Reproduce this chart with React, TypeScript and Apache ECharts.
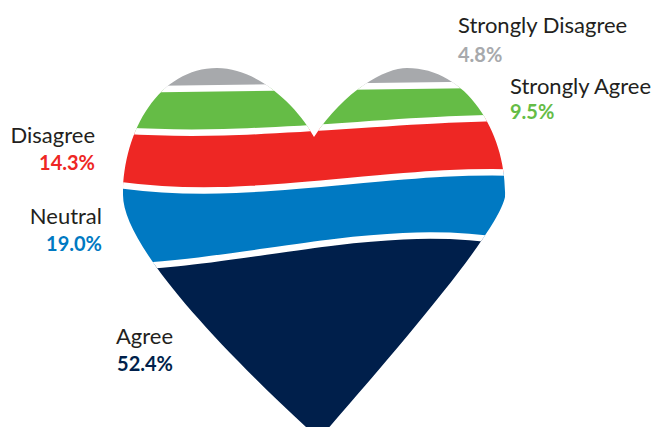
import React, { useEffect, useRef } from 'react';
import * as echarts from 'echarts';

// ---- data ----
const categories = ['Strongly Disagree', 'Strongly Agree', 'Disagree', 'Neutral', 'Agree'];
const values = [4.8, 9.5, 14.3, 19.0, 52.4];
const valueLabels = ['4.8%', '9.5%', '14.3%', '19.0%', '52.4%'];

// ---- styles / layout ----
const COLORS = ['#A7A9AC', '#65BC46', '#EE2724', '#0079C2', '#001F4B'];
const LABEL_LAYOUT = [
  { x: 458, nameY: 24.5, pctY: 53.5, align: 'left' },
  { x: 510, nameY: 85.5, pctY: 110.5, align: 'left' },
  { x: 95, nameY: 134.5, pctY: 161.5, align: 'right' },
  { x: 102, nameY: 215.5, pctY: 242.5, align: 'right' },
  { x: 173, nameY: 335.5, pctY: 362.5, align: 'right' },
];
// wave offsets (px) of each band boundary at four bezier control points
const WAVES = [
  [3, 1, -1, -3],
  [4, 20, -8, -6],
  [1, 32, -16, -5],
  [15, 18, -42, -4],
];
const HEART_PATH =
  'M314 137 C300 110 260 68 217 68 C160 68 123 130 123 195 C123 240 200 330 319 439 ' +
  'C400 346 498 232 505 197 C507 135 468 68 407 68 C385 68 345 90 314 137 Z';

export default function App() {
  const ref = useRef<HTMLDivElement>(null);
  useEffect(() => {
    document.body.style.margin = '0';
    if (!ref.current) return;
    const chart = echarts.init(ref.current, null, { renderer: 'svg' });
    let acc = 0;
    const data = values.map((v) => {
      const item = [acc, acc + v, v];
      acc += v;
      return item;
    });
    const n = values.length;
    const option: any = {
      animation: false,
      grid: {
        left: 123,
        top: 68.5,
        width: 382,
        height: 386,
        containLabel: false,
        outerBoundsMode: 'none',
      },
      xAxis: { type: 'value', min: 0, max: 100, show: false },
      yAxis: { type: 'value', min: 0, max: 100, inverse: true, show: false },
      series: [
        {
          type: 'custom',
          clip: false,
          data,
          renderItem: (params: any, api: any) => {
            const i = params.dataIndex;
            const cs = params.coordSys;
            const yTop = api.coord([0, api.value(0)])[1];
            const yBot = api.coord([0, api.value(1)])[1];
            const xs = [cs.x - 33, cs.x + 117, cs.x + 267, cs.x + 417];
            const curve = (y: number, k: number) =>
              xs.map((x, j) => [x, k < 0 ? y : y + WAVES[k][j]]);
            const top = i === 0 ? curve(cs.y - 80, -1) : curve(yTop, i - 1);
            const bot = i === n - 1 ? curve(cs.y + cs.height + 80, -1) : curve(yBot, i);
            const p = (pt: number[]) => `${pt[0].toFixed(2)} ${pt[1].toFixed(2)}`;
            const d =
              `M${p(top[0])} C${p(top[1])} ${p(top[2])} ${p(top[3])} ` +
              `L${p(bot[3])} C${p(bot[2])} ${p(bot[1])} ${p(bot[0])} Z`;
            const children: any[] = [
              {
                type: 'path',
                shape: { pathData: d },
                style: { fill: COLORS[i] },
                clipPath: { type: 'path', shape: { pathData: HEART_PATH } },
              },
            ];
            if (i > 0) {
              children.push({
                type: 'path',
                shape: { pathData: `M${p(top[0])} C${p(top[1])} ${p(top[2])} ${p(top[3])}` },
                style: { fill: 'none', stroke: '#ffffff', lineWidth: 6.5 },
                clipPath: { type: 'path', shape: { pathData: HEART_PATH } },
              });
            }
            const L = LABEL_LAYOUT[i];
            children.push({
              type: 'text',
              x: L.x,
              y: L.nameY,
              z2: 100,
              style: {
                text: categories[i],
                fill: '#231F20',
                font: '22px Lato',
                align: L.align,
                verticalAlign: 'middle',
                textAlign: L.align,
                textVerticalAlign: 'middle',
              },
            });
            children.push({
              type: 'text',
              x: L.x,
              y: L.pctY,
              z2: 100,
              style: {
                text: valueLabels[i],
                fill: COLORS[i],
                font: 'bold 20px Lato',
                align: L.align,
                verticalAlign: 'middle',
                textAlign: L.align,
                textVerticalAlign: 'middle',
              },
            });
            return { type: 'group', children };
          },
        },
      ],
    };
    chart.setOption(option);
    return () => chart.dispose();
  }, []);
  return <div ref={ref} style={{ width: 658, height: 427 }} />;
}
